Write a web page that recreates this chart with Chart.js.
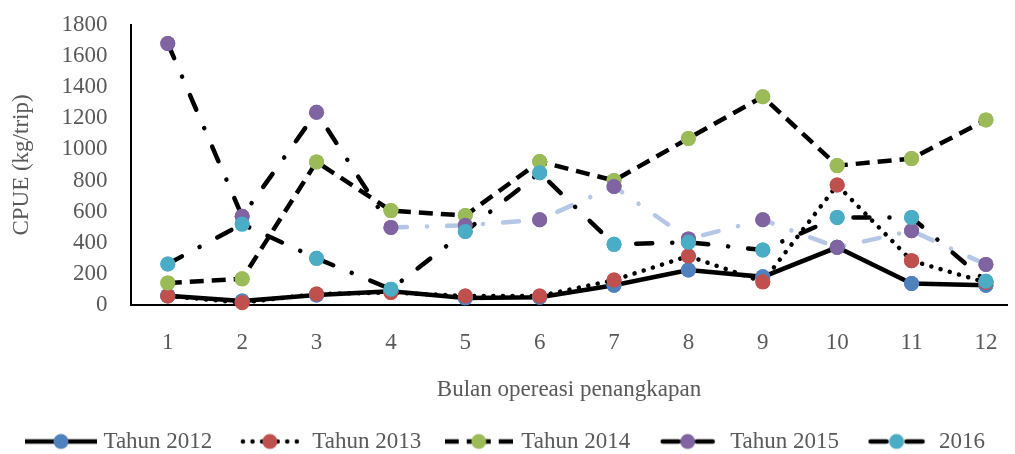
<!DOCTYPE html>
<html>
<head>
<meta charset="utf-8">
<script src="https://cdn.jsdelivr.net/npm/chart.js@4.4.0/dist/chart.umd.min.js"></script>
<style>
  html, body { margin: 0; padding: 0; background: #fff; }
  #wrap { width: 1015px; height: 454px; }
</style>
</head>
<body>
<div id="wrap"><canvas id="cpueChart" width="1015" height="454"></canvas></div>
<script>
// bulan 1..12
const months = [1, 2, 3, 4, 5, 6, 7, 8, 9, 10, 11, 12];

// CPUE (kg/trip) per tahun
const tahun2012 = [60, 25, 65, 88, 45, 50, 127, 225, 181, 371, 138, 127];
const tahun2013 = [58, 15, 71, 80, 58, 58, 160, 315, 149, 771, 285, 145];
const tahun2014 = [142, 168, 920, 607, 575, 922, 800, 1071, 1339, 896, 941, 1190];
const tahun2015 = [1681, 570, 1239, 499, 512, 548, 762, 425, 548, 371, 477, 261];
const tahun2016 = [264, 520, 300, 102, 473, 850, 390, 403, 354, 563, 563, 153];

const seriesNames = ['Tahun 2012', 'Tahun 2013', 'Tahun 2014', 'Tahun 2015', '2016'];
const seriesValues = [tahun2012, tahun2013, tahun2014, tahun2015, tahun2016];
const markerColors = ['#4f81bd', '#c0504d', '#9bbb59', '#8064a2', '#4bacc6'];
const lineDashes = [[], [0.1, 9.5], [14, 8], [16, 20, 0.1, 20], [16, 20, 0.1, 20]];
const lineCaps = ['butt', 'round', 'butt', 'round', 'round'];
const swatchWidths = [72, 60, 68, 56, 58];

const greyText = '#595959';
Chart.defaults.font.family = '"Liberation Serif", "Times New Roman", serif';
Chart.defaults.font.size = 23;
Chart.defaults.color = greyText;

// legend symbol: line + marker, mirrored so both sides start with a dash
function makeSwatch(i) {
  const w = swatchWidths[i], h = 20;
  const c = document.createElement('canvas');
  c.width = w; c.height = h;
  const g = c.getContext('2d');
  g.strokeStyle = '#000';
  g.lineWidth = 4.5;
  g.lineCap = lineCaps[i];
  g.setLineDash(lineDashes[i]);
  const pad = lineCaps[i] === 'round' ? 3 : 0;
  g.beginPath(); g.moveTo(pad, h / 2); g.lineTo(w / 2, h / 2); g.stroke();
  g.beginPath(); g.moveTo(w - pad, h / 2); g.lineTo(w / 2, h / 2); g.stroke();
  g.setLineDash([]);
  g.fillStyle = markerColors[i];
  g.beginPath(); g.arc(w / 2, h / 2, 7.5, 0, Math.PI * 2); g.fill();
  return c;
}
const swatches = seriesNames.map((n, i) => makeSwatch(i));

const datasets = seriesNames.map((name, i) => ({
  label: name,
  data: seriesValues[i].map((v, k) => ({ x: months[k], y: v })),
  borderColor: '#000',
  borderWidth: 4.5,
  borderDash: lineDashes[i],
  borderCapStyle: lineCaps[i],
  pointRadius: 7.5,
  pointHoverRadius: 7.5,
  pointBackgroundColor: markerColors[i],
  pointBorderColor: markerColors[i],
  pointBorderWidth: 0,
  fill: false,
  tension: 0,
  order: seriesNames.length - 1 - i
}));

// 2015 turns light blue after month 4
datasets[3].segment = {
  borderColor: ctx => ctx.p0DataIndex < 3 ? '#000' : '#b4c7e7'
};

// markers on top of all lines, like the spreadsheet chart
const markersOnTop = {
  id: 'markersOnTop',
  afterDatasetsDraw(chart) {
    const ctx = chart.ctx;
    for (let i = 0; i < chart.data.datasets.length; i++) {
      chart.getDatasetMeta(i).data.forEach(p => p.draw(ctx, chart.chartArea));
    }
  }
};

// invisible tick marks give the label gap (ticks.padding would also pad the chart area)
const hiddenTicks = len => ({
  display: true,
  drawOnChartArea: false,
  drawTicks: true,
  tickLength: len,
  color: 'rgba(0,0,0,0)',
  tickColor: 'rgba(0,0,0,0)'
});

new Chart(document.getElementById('cpueChart'), {
  type: 'line',
  data: { datasets: datasets },
  plugins: [markersOnTop],
  options: {
    responsive: false,
    devicePixelRatio: 1,
    animation: false,
    layout: { padding: { left: 0, right: 0, top: 25, bottom: -9 } },
    plugins: {
      tooltip: { enabled: false },
      legend: {
        position: 'bottom',
        labels: {
          usePointStyle: true,
          pointStyleWidth: 62,
          padding: 26.5,
          color: greyText,
          font: { size: 23 },
          generateLabels: chart => chart.data.datasets.map((ds, i) => ({
            text: ds.label,
            datasetIndex: i,
            pointStyle: swatches[i],
            fillStyle: markerColors[i],
            strokeStyle: markerColors[i],
            lineWidth: 0,
            hidden: false,
            fontColor: greyText
          }))
        }
      }
    },
    scales: {
      x: {
        type: 'linear',
        min: 0.5,
        max: 12.29,
        afterBuildTicks: s => { s.ticks = months.map(m => ({ value: m })); },
        grid: hiddenTicks(24),
        border: { display: true, color: '#000', width: 2 },
        ticks: { padding: 0, color: greyText, font: { size: 23 }, maxRotation: 0, autoSkip: false },
        title: {
          display: true,
          text: 'Bulan opereasi penangkapan',
          color: greyText,
          font: { size: 23 },
          padding: { top: 19.6, bottom: -0.3 }
        }
      },
      y: {
        min: 0,
        max: 1800,
        grid: hiddenTicks(23),
        border: { display: true, color: '#000', width: 2 },
        ticks: {
          stepSize: 200,
          autoSkip: false,
          padding: 0,
          color: greyText,
          font: { size: 23 },
          callback: v => String(v)
        },
        title: {
          display: true,
          text: 'CPUE (kg/trip)',
          color: greyText,
          font: { size: 23 },
          padding: { top: 8, bottom: 26 }
        }
      }
    }
  }
});
</script>
</body>
</html>
